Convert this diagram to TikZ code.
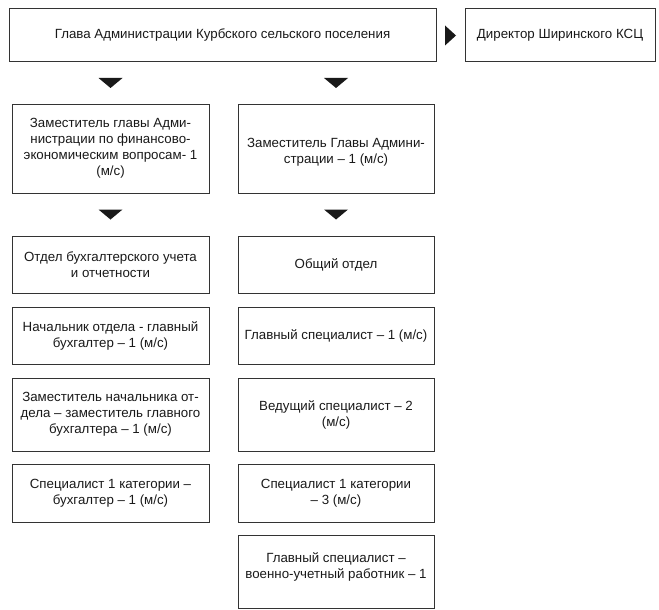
\documentclass[tikz,border=0pt]{standalone}
\usepackage{fontspec}
\setmainfont{Liberation Sans}
\usetikzlibrary{calc}
\begin{document}
\begin{tikzpicture}[x=1pt,y=-1pt,
  box/.style={draw=black!80, line width=1pt, align=center, inner sep=0pt,
    font=\fontsize{13.3}{16}\selectfont, text=black!90},
  lcol/.style={box, minimum width=197pt},
  rcol/.style={box, minimum width=196pt},
  tri/.style={fill=black!90}]
\useasboundingbox (0,0) rectangle (659,610);
% top row
\node[box, minimum width=427pt, minimum height=53pt] (head) at (222.5,35.5)
  {Глава Администрации Курбского сельского поселения};
\node[box, minimum width=190pt, minimum height=53pt] (dir) at (560,35.5)
  {Директор Ширинского КСЦ};
% left column
\node[lcol, minimum height=89pt] (l1) at (110.5,148.5)
  {Заместитель главы Адми-\\нистрации по финансово-\\экономическим вопросам- 1\\(м/с)};
\node[lcol, minimum height=57pt] (l2) at (110.5,264.5)
  {Отдел бухгалтерского учета\\и отчетности};
\node[lcol, minimum height=57pt] (l3) at (110.5,335.5)
  {Начальник отдела - главный\\бухгалтер – 1 (м/с)};
\node[lcol, minimum height=73pt] (l4) at (110.5,414.5)
  {Заместитель начальника от-\\дела – заместитель главного\\бухгалтера – 1 (м/с)};
\node[lcol, minimum height=58pt] (l5) at (110.5,493)
  {Специалист 1 категории –\\бухгалтер – 1 (м/с)};
% right column
\node[rcol, minimum height=89pt] (r1) at (336,148.5)
  {\strut\\[-10pt]Заместитель Главы Админи-\\страции – 1 (м/с)};
\node[rcol, minimum height=57pt] (r2) at (336,264.5)
  {Общий отдел};
\node[rcol, minimum height=57pt] (r3) at (336,335.5)
  {Главный специалист – 1 (м/с)};
\node[rcol, minimum height=73pt] (r4) at (336,414.5)
  {Ведущий специалист – 2\\(м/с)};
\node[rcol, minimum height=58pt] (r5) at (336,493)
  {Специалист 1 категории\\– 3 (м/с)};
\node[rcol, minimum height=73pt] (r6) at (336,571.5)
  {Главный специалист –\\военно-учетный работник – 1\\[-8pt]\strut};
% arrowheads
\coordinate (a1) at ($(head.south -| l1.north)!0.5!(l1.north)$);
\coordinate (a2) at ($(head.south -| r1.north)!0.5!(r1.north)$);
\coordinate (a3) at ($(l1.south)!0.5!(l2.north)$);
\coordinate (a4) at ($(r1.south)!0.5!(r2.north)$);
\coordinate (a5) at ($(head.east)!0.5!(dir.west)$);
\foreach \c in {a1,a2,a3,a4}{
  \fill[tri] ($(\c)+(-12,-5)$) -- ($(\c)+(12,-5)$) -- ($(\c)+(0,5)$) -- cycle;
}
\fill[tri] ($(a5)+(-5.5,-10)$) -- ($(a5)+(-5.5,10)$) -- ($(a5)+(5.5,0)$) -- cycle;
\end{tikzpicture}
\end{document}
